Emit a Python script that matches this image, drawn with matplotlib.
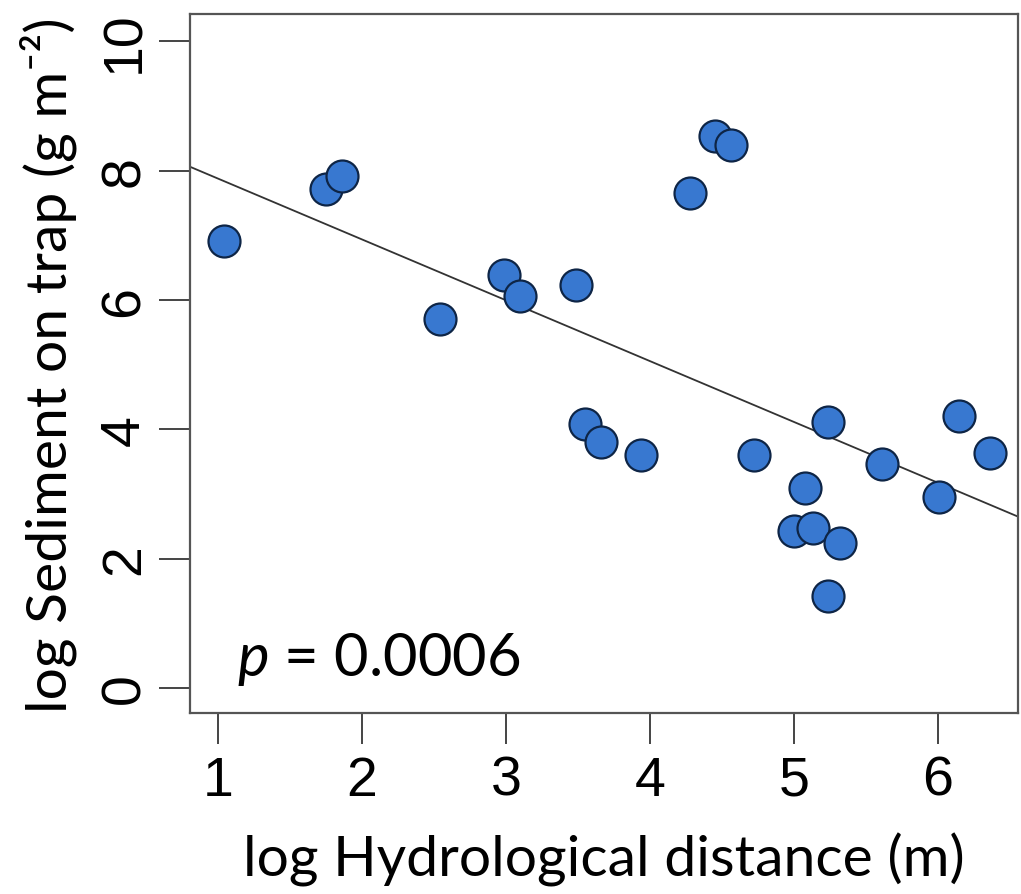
import matplotlib
matplotlib.use("Agg")
import matplotlib.pyplot as plt
import numpy as np

# log hydrological distance (m) vs log sediment on trap (g m-2)
dist = [1.04, 1.75, 1.86, 2.54, 2.99, 3.10, 3.49, 3.55, 3.66, 3.94,
        4.28, 4.45, 4.56, 4.72, 5.00, 5.08, 5.13, 5.24, 5.24, 5.32,
        5.61, 6.01, 6.15, 6.36]
sediment = [6.91, 7.72, 7.92, 5.71, 6.39, 6.06, 6.23, 4.09, 3.81, 3.61,
            7.66, 8.53, 8.40, 3.61, 2.43, 3.10, 2.47, 4.11, 1.43, 2.25,
            3.47, 2.96, 4.20, 3.63]
fit_intercept = 8.82
fit_slope = -0.941

xticks = [1, 2, 3, 4, 5, 6]
yticks = [0, 2, 4, 6, 8, 10]

tick_font = ["Liberation Sans", "DejaVu Sans"]
label_font = ["Lato", "DejaVu Sans"]

plt.rcParams["mathtext.fontset"] = "custom"
plt.rcParams["mathtext.rm"] = "Lato"
plt.rcParams["mathtext.it"] = "Lato:italic"

fig = plt.figure(figsize=(10.21, 8.95), dpi=100)
ax = fig.add_axes([0.186, 0.202, 0.811, 0.781])

ax.scatter(dist, sediment, s=530, c="#3878d0", edgecolors="#0e2546",
           linewidths=1.6, zorder=3)

xlim = (0.806, 6.556)
ax.set_xlim(xlim)
ax.set_ylim(-0.39, 10.42)
xs = np.array(xlim)
ax.plot(xs, fit_intercept + fit_slope * xs, color="#333333", lw=1.3, zorder=2)

# R-style axes: box plus ticks at labelled values only
for sp in ax.spines.values():
    sp.set_color("#555555")
    sp.set_linewidth(1.6)
ax.set_xticks(xticks)
ax.set_yticks(yticks)
ax.set_xticklabels([str(v) for v in xticks], family=tick_font, fontsize=40)
ax.set_yticklabels([str(v) for v in yticks], family=tick_font, fontsize=40,
                   rotation=90, va="center")
ax.tick_params(axis="both", length=22, width=1.4, color="#444444")
ax.tick_params(axis="x", pad=8)
ax.tick_params(axis="y", pad=6)

ax.set_xlabel("log Hydrological distance (m)", family=label_font,
              fontsize=41, labelpad=18)
ax.set_ylabel("log Sediment on trap (g m\u207b\u00b2)", family=label_font,
              fontsize=41, labelpad=16)

ax.text(0.057, 0.078, r"$\mathit{p}$ = 0.0006", transform=ax.transAxes,
        family=label_font, fontsize=43, va="center", ha="left")

fig.savefig("out.png", dpi=100)
